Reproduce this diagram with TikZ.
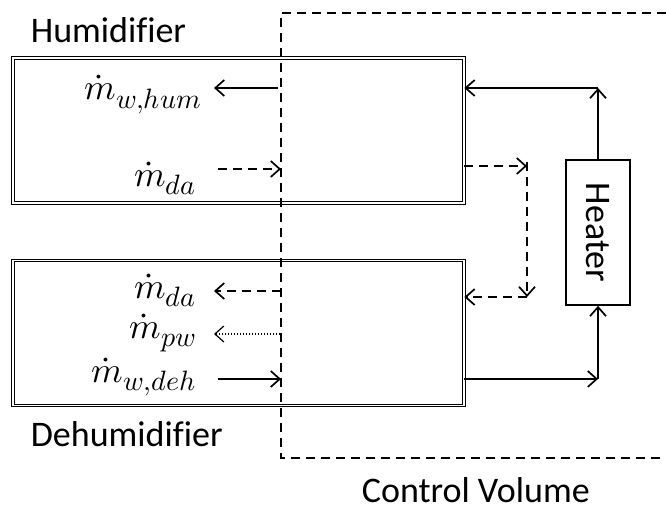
\documentclass[tikz,border=0pt]{standalone}
\usepackage{fontspec}
\usepackage{unicode-math}
\setmainfont{Carlito}[Ligatures=CommonOff]
\setmathfont{Latin Modern Math}
\DeclareMathSizes{36}{36}{28}{22}
\usetikzlibrary{arrows.meta}
\usetikzlibrary{positioning}

\begin{document}
\begin{tikzpicture}[x=1pt, y=-1pt, line width=1.7pt,
  >={Straight Barb[length=9pt, width=16pt]},
  every node/.style={font=\fontsize{36}{42}\selectfont, inner sep=0pt},
  unitbox/.style={draw, double, double distance=1.6pt, line width=0.8pt, minimum width=451pt, minimum height=145pt},
  heaterbox/.style={draw, minimum width=64pt, minimum height=145pt},
  cv/.style={dash pattern=on 9pt off 6pt},
  flowdash/.style={->, dash pattern=on 9pt off 6pt},
  flowdot/.style={->, line width=1.2pt, dash pattern=on 1.5pt off 1.5pt}]

      \useasboundingbox (0,0) rectangle (666,513);

      % the two units and the heater
      \node[unitbox] (hum) at (238.5,130.5) {};
      \node[unitbox] (deh) at (238.5,333) {};
      \node[heaterbox] (heater) at (598,232.5) {\rotatebox{-90}{Heater}};

      \node[anchor=base west] (humlabel) at (30,43) {Humidifier};
      \node[anchor=base west] (dehlabel) at (30,446) {Dehumidifier};
      \node[anchor=base west] (cvlabel) at (361,502) {Control Volume};

      % control volume
      \coordinate (cvtr) at (666,13);
      \coordinate (cvtl) at (281,13);
      \coordinate (cvbl) at (281,458);
      \coordinate (cvbr) at (666,458);
      \draw[cv] (cvtr) -- (cvtl) -- (cvbl) -- (cvbr);

      % mass flows at the boundary
      \node[anchor=base east] (mwhum) at (202,100) {$\dot{m}_{w,hum}$};
      \node[anchor=base east] (mdahum) at (197,186) {$\dot{m}_{da}$};
      \node[anchor=base east] (mdadeh) at (197,298) {$\dot{m}_{da}$};
      \node[anchor=base east] (mpw) at (197,338) {$\dot{m}_{pw}$};
      \node[anchor=base east] (mwdeh) at (197,382) {$\dot{m}_{w,deh}$};

      \coordinate (a1) at (278,88);  \coordinate (b1) at (214,88);
      \coordinate (a2) at (218,169); \coordinate (b2) at (281,169);
      \coordinate (a3) at (281,291); \coordinate (b3) at (214,291);
      \coordinate (a4) at (280,334); \coordinate (b4) at (214,334);
      \coordinate (a5) at (218,379); \coordinate (b5) at (281,379);

      \draw[->] (a1) -- (b1);
      \draw[flowdash] (a2) -- (b2);
      \draw[flowdash] (a3) -- (b3);
      \draw[flowdot] (a4) -- (b4);
      \draw[->] (a5) -- (b5);

      % air loop through the heater
      \coordinate (topturn) at (598,88);
      \coordinate (botturn) at (598,379);
      \coordinate (dashtop) at (527,166);
      \coordinate (dashbot) at (527,297);

      \draw[->] (heater.north) -- (topturn);
      \draw[->] (topturn) -- (topturn -| hum.east);
      \draw[->] (botturn -| deh.east) -- (botturn);
      \draw[->] (botturn) -- (heater.south);

      \draw[flowdash] (dashtop -| hum.east) -- (dashtop);
      \draw[flowdash] ([yshift=4pt]dashtop) -- (dashbot);
      \draw[flowdash] (dashbot) -- (dashbot -| deh.east);
    \end{tikzpicture}
\end{document}
